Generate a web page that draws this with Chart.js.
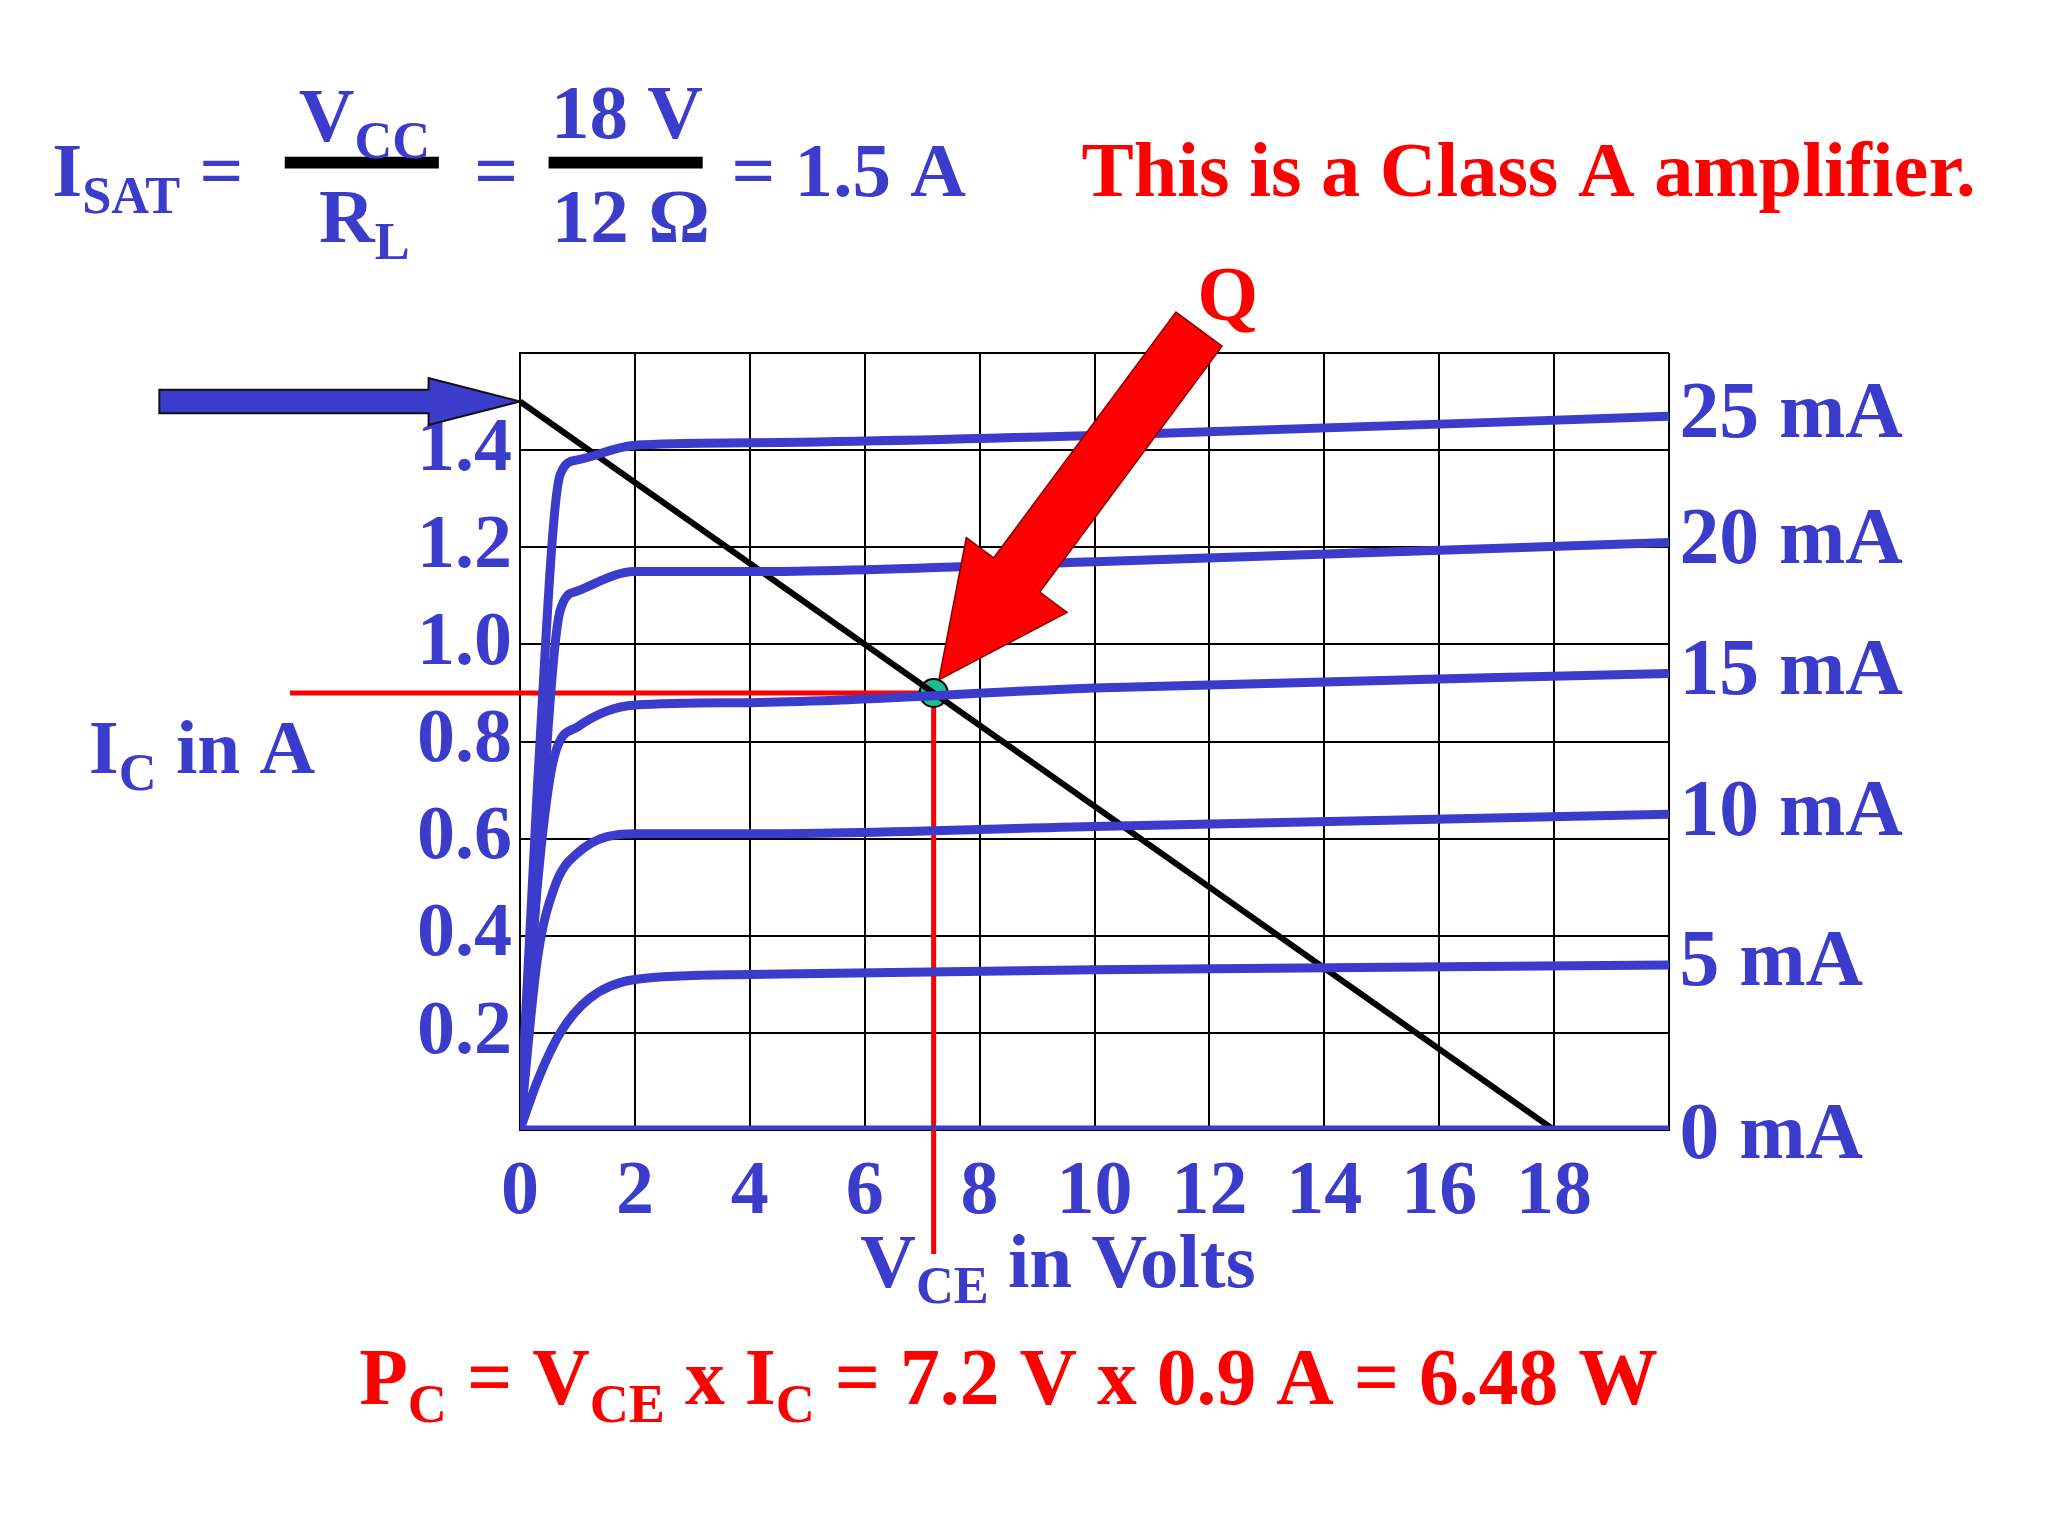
<!DOCTYPE html>
<html><head><meta charset="utf-8">
<script src="https://cdn.jsdelivr.net/npm/chart.js@4"></script>
<style>body{margin:0;background:#fff}canvas{display:block}</style>
</head><body>
<canvas id="c" width="2048" height="1536"></canvas>
<script>
const baseCurrents = ['0 mA','5 mA','10 mA','15 mA','20 mA','25 mA'];
const vce0 = [0, 20];                 const ic0 = [0, 0];
const vce5 = [0,0.3,0.7,1.2,2,4,10,20]; const ic5 = [0,0.1,0.2,0.27,0.31,0.32,0.33,0.34];
const vce10 = [0,0.3,0.6,1,2,4,10,20];  const ic10 = [0,0.35,0.5,0.57,0.61,0.61,0.625,0.65];
const vce15 = [0,0.3,0.6,1,2,4,10,20];  const ic15 = [0,0.5,0.77,0.83,0.875,0.88,0.91,0.94];
const vce20 = [0,0.35,0.7,1,2,4,10,20]; const ic20 = [0,0.6,1.07,1.11,1.15,1.15,1.17,1.21];
const vce25 = [0,0.3,0.7,1,2,4,10,20];  const ic25 = [0,0.7,1.35,1.38,1.41,1.415,1.43,1.47];
const loadVce = [0, 18]; const loadIc = [1.5, 0];
const qVce = 7.2, qIc = 0.9;

const BLUE = '#3b3bcc', RED = '#ff0000';
const S = 2048/1568;
const F = 'Liberation Serif, Times New Roman, serif';
const pts = (xs, ys) => xs.map((x,i)=>({x, y: ys[i]}));
const curves = [[vce0,ic0],[vce5,ic5],[vce10,ic10],[vce15,ic15],[vce20,ic20],[vce25,ic25]];
const datasets = curves.map(([xs,ys],i)=>({label: baseCurrents[i], data: pts(xs,ys), borderColor: BLUE,
  borderWidth: 9, pointRadius: 0, cubicInterpolationMode: 'monotone', fill:false}));
datasets.push({label:'load', data: pts(loadVce, loadIc), borderColor:'#000', borderWidth:6, pointRadius:0});
datasets.push({label:'Q', data:[{x:qVce,y:qIc}], borderColor:'#000', backgroundColor:'#19c08e', borderWidth:2,
  pointRadius: 14, showLine:false});

function rich(ctx, x, y, segs, size, color, align) {
  ctx.fillStyle = color; ctx.textBaseline = 'alphabetic'; ctx.textAlign = 'left';
  let w = 0;
  for (const [t,sub] of segs) { ctx.font = `bold ${sub?size*0.68:size}px ${F}`; w += ctx.measureText(t).width; }
  let cx = align === 'center' ? x - w/2 : x;
  for (const [t,sub] of segs) { ctx.font = `bold ${sub?size*0.68:size}px ${F}`;
    ctx.fillText(t, cx, sub ? y + size*0.22 : y); cx += ctx.measureText(t).width; }
}

const plugin = {
  id: 'deco',
  beforeDatasetsDraw(chart) {
    const {ctx, scales:{x,y}} = chart;
    const qx = x.getPixelForValue(qVce), qy = y.getPixelForValue(qIc);
    ctx.save(); ctx.strokeStyle = RED; ctx.lineWidth = 5;
    ctx.beginPath(); ctx.moveTo(222*S, qy); ctx.lineTo(qx, qy);
    ctx.moveTo(qx, qy); ctx.lineTo(qx, 960*S); ctx.stroke(); ctx.restore();
  },
  afterDraw(chart) {
    const {ctx, scales:{x,y}} = chart;
    ctx.save();
    const tx = x.getPixelForValue(0), ty = y.getPixelForValue(1.5);
    ctx.fillStyle = BLUE; ctx.strokeStyle = '#111'; ctx.lineWidth = 2;
    ctx.beginPath();
    ctx.moveTo(122*S, ty-9*S); ctx.lineTo(tx-70*S, ty-9*S); ctx.lineTo(tx-70*S, ty-18*S);
    ctx.lineTo(tx, ty); ctx.lineTo(tx-70*S, ty+18*S); ctx.lineTo(tx-70*S, ty+9*S);
    ctx.lineTo(122*S, ty+9*S); ctx.closePath(); ctx.fill(); ctx.stroke();
    const qx = x.getPixelForValue(qVce) + 4*S, qy = y.getPixelForValue(qIc) - 10*S;
    const tail = [918*S, 252*S]; let dx = tail[0]-qx, dy = tail[1]-qy; const L = Math.hypot(dx,dy);
    const u=[dx/L,dy/L], n=[-u[1],u[0]];
    const hl = 100*S, hw = 48*S, sw = 22*S;
    const P=(a,b)=>[qx+u[0]*a+n[0]*b, qy+u[1]*a+n[1]*b];
    const poly=[P(0,0),P(hl,hw),P(hl,sw),P(L,sw),P(L,-sw),P(hl,-sw),P(hl,-hw)];
    ctx.fillStyle = RED; ctx.beginPath(); poly.forEach((p,i)=>i?ctx.lineTo(p[0],p[1]):ctx.moveTo(p[0],p[1]));
    ctx.closePath(); ctx.fill(); ctx.strokeStyle='#800'; ctx.lineWidth=1.5; ctx.stroke();
    ctx.restore();

    ctx.save(); ctx.scale(S,S);
    const sz = 59;
    rich(ctx, 40, 150, [['I',0],['SAT',1],[' =',0]], sz, BLUE);
    ctx.fillStyle = '#000'; ctx.fillRect(218,120,118,9); ctx.fillRect(420,120,118,9);
    rich(ctx, 279, 108, [['V',0],['CC',1]], sz, BLUE, 'center');
    rich(ctx, 279, 185, [['R',0],['L',1]], sz, BLUE, 'center');
    rich(ctx, 380, 150, [['=',0]], sz, BLUE, 'center');
    rich(ctx, 480, 106, [['18 V',0]], sz, BLUE, 'center');
    rich(ctx, 483, 185, [['12 Ω',0]], sz, BLUE, 'center');
    rich(ctx, 560, 150, [['= 1.5 A',0]], sz, BLUE);
    rich(ctx, 828, 150, [['This is a Class A amplifier.',0]], 60, RED);
    rich(ctx, 940, 245, [['Q',0]], 60, RED, 'center');
    rich(ctx, 68, 592, [['I',0],['C',1],[' in A',0]], sz, BLUE);
    rich(ctx, 810, 985, [['V',0],['CE',1],[' in Volts',0]], sz, BLUE, 'center');
    rich(ctx, 275, 1075, [['P',0],['C',1],[' = V',0],['CE',1],[' x I',0],['C',1],[' = 7.2 V x 0.9 A = 6.48 W',0]], 61, RED);
    ctx.restore();
    ctx.save();
    curves.forEach(([xs,ys],i)=>{
      const yy = y.getPixelForValue(ys[ys.length-1]);
      ctx.font = `bold ${61*S}px ${F}`; ctx.fillStyle = BLUE; ctx.textBaseline='middle'; ctx.textAlign='left';
      ctx.fillText(baseCurrents[i], x.right + 8*S, yy + (i===0?6*S:0));
    });
    ctx.restore();
  }
};

new Chart(document.getElementById('c'), {
  type: 'line',
  data: { datasets },
  options: {
    responsive: false, animation: false, devicePixelRatio: 1,
    layout: { padding: { left: 380, right: 379, top: 353, bottom: 306 } },
    plugins: { legend: {display:false}, tooltip:{enabled:false} },
    scales: {
      x: { type:'linear', min:0, max:20,
        ticks: { stepSize:2, color: BLUE, font:{family:F, size:76, weight:'bold'}, padding: 18,
          callback: v => v > 18 ? '' : String(v) },
        grid: { color:'#000', lineWidth:2, drawTicks:false }, border:{color:'#000', width:2},
        afterFit: s => { s.height = 100; } },
      y: { min:0, max:1.6,
        ticks: { stepSize:0.2, color: BLUE, font:{family:F, size:76, weight:'bold'}, padding: 8,
          callback: v => (v < 0.1 || v > 1.5) ? '' : v.toFixed(1) },
        grid: { color:'#000', lineWidth:2, drawTicks:false }, border:{color:'#000', width:2},
        afterFit: s => { s.width = 140; } }
    }
  },
  plugins: [plugin]
});
</script>
</body></html>
